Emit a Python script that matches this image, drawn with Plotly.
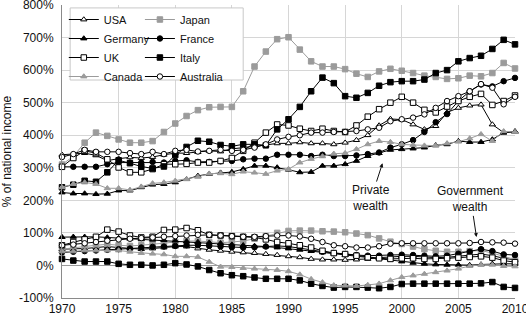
import plotly.graph_objects as go

years = list(range(1970, 2011))

# Private wealth (% of national income), 1970-2010
usa_private = [340, 342, 345, 338, 322, 328, 332, 330, 333, 340, 345, 345, 348, 352, 350, 358, 362, 365, 370, 375, 375,
               378, 375, 375, 372, 377, 385, 400, 430, 450, 448, 433, 418, 428, 470, 484, 491, 494, 433, 408, 410]
japan_private = [310, 335, 377, 408, 398, 387, 377, 377, 382, 410, 436, 459, 477, 486, 487, 487, 535, 611, 657, 695, 701,
                 663, 627, 611, 611, 603, 589, 579, 596, 604, 598, 591, 583, 579, 573, 575, 583, 581, 591, 622, 605]
germany_private = [224, 221, 221, 219, 220, 230, 230, 240, 248, 250, 255, 265, 275, 281, 285, 287, 296, 306, 306, 301, 294,
                   286, 287, 306, 306, 311, 321, 336, 345, 355, 357, 359, 362, 369, 372, 382, 379, 379, 387, 408, 412]
france_private = [303, 303, 303, 303, 311, 316, 316, 316, 318, 316, 321, 323, 318, 318, 320, 321, 326, 328, 328, 340, 340,
                  340, 336, 340, 336, 336, 338, 342, 347, 362, 372, 385, 410, 440, 465, 505, 535, 556, 550, 566, 576]
uk_private = [303, 330, 352, 345, 326, 301, 286, 286, 296, 311, 311, 312, 316, 316, 321, 330, 352, 377, 408, 433, 430,
              420, 413, 420, 413, 410, 430, 457, 480, 500, 518, 500, 478, 470, 488, 505, 518, 527, 493, 505, 522]
italy_private = [240, 248, 260, 257, 286, 323, 314, 304, 298, 304, 339, 364, 383, 380, 370, 366, 372, 372, 369, 418, 449,
                 487, 535, 577, 560, 520, 515, 530, 552, 563, 566, 566, 571, 591, 600, 627, 637, 644, 665, 693, 679]
canada_private = [240, 250, 255, 250, 237, 237, 232, 242, 252, 255, 260, 265, 272, 282, 283, 280, 288, 285, 281, 291, 296,
                  316, 327, 335, 343, 345, 357, 372, 382, 379, 372, 370, 368, 368, 375, 380, 390, 403, 382, 412, 410]
australia_private = [333, 342, 355, 349, 349, 349, 345, 342, 349, 342, 352, 355, 350, 352, 355, 352, 355, 362, 372, 387, 395,
                     400, 408, 408, 410, 410, 413, 418, 423, 443, 449, 454, 464, 484, 505, 520, 535, 557, 546, 495, 518]

# Government wealth (% of national income), 1970-2010
usa_gov = [50, 50, 52, 55, 58, 55, 52, 50, 52, 55, 58, 58, 52, 48, 45, 42, 40, 38, 35, 32, 28,
           25, 20, 18, 18, 17, 18, 20, 24, 27, 28, 28, 26, 24, 25, 28, 32, 35, 30, 22, 17]
japan_gov = [50, 55, 58, 62, 65, 62, 60, 62, 65, 68, 72, 75, 75, 72, 70, 72, 75, 82, 90, 100, 106,
             107, 107, 105, 104, 102, 98, 93, 83, 73, 66, 58, 50, 45, 42, 42, 44, 46, 38, 28, 18]
germany_gov = [87, 88, 88, 88, 86, 84, 82, 80, 79, 78, 76, 74, 72, 70, 68, 64, 62, 60, 58, 55, 52,
               48, 44, 40, 36, 32, 28, 25, 22, 18, 12, 8, 5, 3, 2, 2, 1, 3, 5, 5, 5]
france_gov = [40, 42, 44, 46, 48, 50, 52, 55, 57, 58, 60, 62, 62, 60, 58, 56, 55, 56, 58, 60, 58,
              54, 48, 42, 38, 35, 32, 30, 30, 32, 33, 32, 30, 28, 30, 36, 42, 50, 44, 34, 32]
uk_gov = [62, 72, 80, 88, 110, 104, 92, 86, 88, 109, 110, 115, 108, 94, 92, 90, 88, 86, 80, 72, 68,
          62, 55, 45, 38, 35, 30, 25, 22, 20, 22, 22, 20, 20, 22, 24, 26, 28, 24, 15, 10]
italy_gov = [20, 15, 12, 12, 12, 5, 2, 2, 0, 2, 7, 3, -3, -14, -24, -30, -33, -37, -41, -41, -41,
             -46, -56, -63, -68, -66, -66, -68, -70, -66, -57, -56, -56, -56, -56, -56, -56, -55, -51, -66, -69]
canada_gov = [43, 43, 46, 46, 46, 46, 42, 38, 36, 34, 28, 28, 26, 11, -4, -5, -8, -10, -12, -14, -18,
              -28, -42, -52, -61, -62, -63, -60, -56, -46, -36, -31, -26, -21, -16, -10, -2, 2, 2, -2, -3]
australia_gov = [62, 64, 68, 72, 76, 80, 82, 84, 86, 88, 90, 92, 94, 94, 92, 90, 88, 88, 90, 92, 92,
                 89, 82, 72, 62, 59, 55, 55, 59, 67, 68, 68, 68, 68, 68, 68, 69, 72, 71, 70, 67]

countries = ["USA", "Japan", "Germany", "France", "UK", "Italy", "Canada", "Australia"]
private = [usa_private, japan_private, germany_private, france_private,
           uk_private, italy_private, canada_private, australia_private]
government = [usa_gov, japan_gov, germany_gov, france_gov,
              uk_gov, italy_gov, canada_gov, australia_gov]

y_tick_values = [-100, 0, 100, 200, 300, 400, 500, 600, 700, 800]
y_tick_labels = ["-100%", "0%", "100%", "200%", "300%", "400%", "500%", "600%", "700%", "800%"]
x_tick_values = [1970, 1975, 1980, 1985, 1990, 1995, 2000, 2005, 2010]

BLACK = "#000000"
GRAY = "#9b9b9b"
styles = {
    "USA": dict(color=BLACK, symbol="triangle-up", fill="white"),
    "Japan": dict(color=GRAY, symbol="square", fill=GRAY),
    "Germany": dict(color=BLACK, symbol="triangle-up", fill=BLACK),
    "France": dict(color=BLACK, symbol="circle", fill=BLACK),
    "UK": dict(color=BLACK, symbol="square", fill="white"),
    "Italy": dict(color=BLACK, symbol="square", fill=BLACK),
    "Canada": dict(color=GRAY, symbol="triangle-up", fill=GRAY),
    "Australia": dict(color=BLACK, symbol="circle", fill="white"),
}
left_col = {"USA", "Germany", "UK", "Canada"}

fig = go.Figure()
for name, priv, gov in zip(countries, private, government):
    st = styles[name]
    leg = "legend" if name in left_col else "legend2"
    for i, vals in enumerate((priv, gov)):
        fig.add_trace(go.Scatter(
            x=years, y=vals, mode="lines+markers", name=name,
            legendgroup=name, showlegend=(i == 0), legend=leg,
            line=dict(color=st["color"], width=1),
            marker=dict(symbol=st["symbol"], size=5.5, color=st["fill"],
                        line=dict(color=st["color"], width=1)),
            cliponaxis=False,
        ))

font_family = "Liberation Sans, Arial, sans-serif"

fig.update_layout(
    width=526, height=316,
    margin=dict(l=62, r=11, t=5, b=18),
    plot_bgcolor="white", paper_bgcolor="white",
    font=dict(family=font_family, size=12, color="#111"),
    xaxis=dict(range=[1970, 2010], tickvals=x_tick_values, showgrid=True,
               gridcolor="#d6d6d6", gridwidth=1, showline=True, linecolor="#8a8a8a",
               linewidth=1, zeroline=False, ticks="", tickfont=dict(size=12),
               automargin=False, ticklabeloverflow="allow", ticklabelstandoff=0),
    yaxis=dict(range=[-100, 800], tickvals=y_tick_values, ticktext=y_tick_labels,
               showgrid=True, gridcolor="#d6d6d6", gridwidth=1, showline=True,
               linecolor="#8a8a8a", linewidth=1, zeroline=True, zerolinecolor="#9a9a9a",
               zerolinewidth=1, ticks="", automargin=False, ticklabeloverflow="allow",
               ticklabelstandoff=5,
               title=dict(text="% of national income", font=dict(size=12))),
    legend=dict(x=0.004, y=1.0, xanchor="left", yanchor="top", bgcolor="rgba(0,0,0,0)",
                font=dict(size=11), itemwidth=30, tracegroupgap=0, traceorder="normal"),
    legend2=dict(x=0.172, y=1.0, xanchor="left", yanchor="top", bgcolor="rgba(0,0,0,0)",
                 font=dict(size=11), itemwidth=30, tracegroupgap=0, traceorder="normal"),
    shapes=[dict(type="rect", xref="paper", yref="paper", x0=0.018, x1=0.40, y0=0.744, y1=0.99,
                 fillcolor="white", line=dict(color="#c8c8c8", width=1), layer="above")],
    showlegend=True,
)

fig.add_annotation(x=1998.3, y=314, ax=1997.3, ay=207, xref="x", yref="y", axref="x", ayref="y",
                   text="Private<br>wealth", showarrow=True, arrowhead=2, arrowsize=0.8,
                   arrowwidth=1, arrowcolor="#111", font=dict(size=12, color="#111"))
fig.add_annotation(x=2006.6, y=87, ax=2006.1, ay=203, xref="x", yref="y", axref="x", ayref="y",
                   text="Government<br>wealth", showarrow=True, arrowhead=2, arrowsize=0.8,
                   arrowwidth=1, arrowcolor="#111", font=dict(size=12, color="#111"))

fig.write_html("out.html", config={"displayModeBar": False},
               post_script="document.body.style.margin='0';")
